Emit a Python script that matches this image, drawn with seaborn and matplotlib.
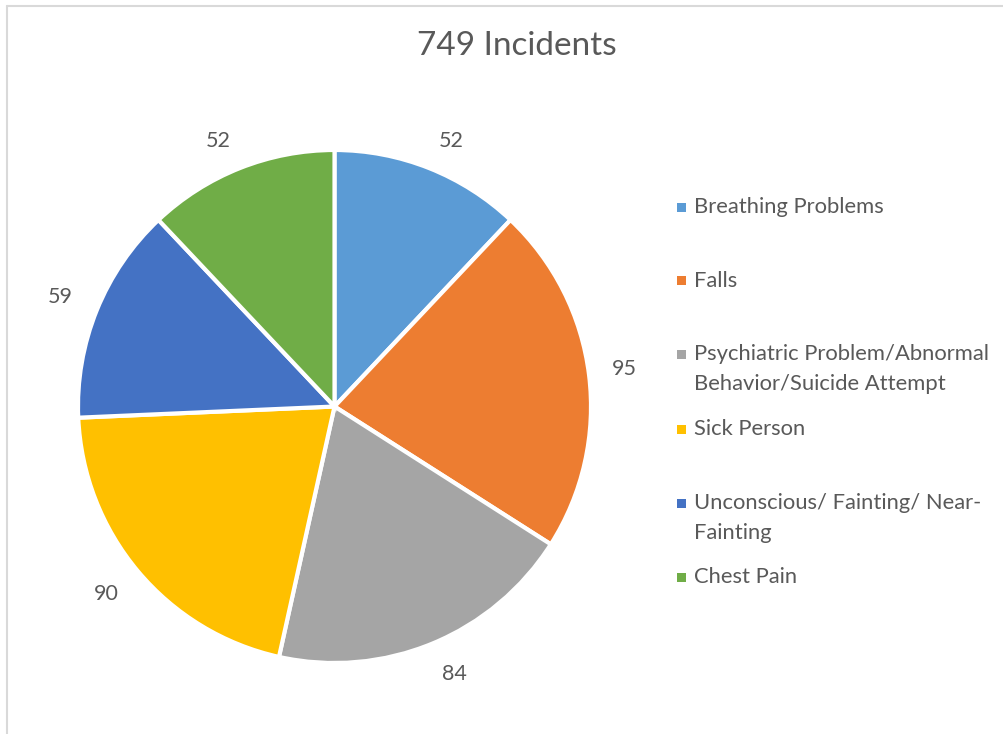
import matplotlib
matplotlib.use("Agg")
import matplotlib.pyplot as plt
import seaborn as sns
from matplotlib.lines import Line2D
from matplotlib.patches import Rectangle

# data
categories = ["Breathing Problems", "Falls",
              "Psychiatric Problem/Abnormal\nBehavior/Suicide Attempt",
              "Sick Person", "Unconscious/ Fainting/ Near-\nFainting", "Chest Pain"]
counts = [52, 95, 84, 90, 59, 52]
title = "749 Incidents"

colors = sns.color_palette(["#5B9BD5", "#ED7D31", "#A5A5A5", "#FFC000", "#4472C4", "#70AD47"])

sns.set_theme(style="white")
plt.rcParams['font.family'] = ['Lato', 'DejaVu Sans']
txt = "#595959"

W, H = 1004, 734
fig = plt.figure(figsize=(W / 100, H / 100), dpi=100)
fig.patch.set_facecolor("white")

# chart frame (only top and left edges visible)
fig.add_artist(Line2D([6.5 / W, 6.5 / W], [0, 1 - 5.5 / H], color="#D9D9D9", lw=1.5))
fig.add_artist(Line2D([6.5 / W, 1], [1 - 5.5 / H, 1 - 5.5 / H], color="#D9D9D9", lw=1.5))

# pie axes placed on pixel box
cx, cy, r = 334.5, 406.5, 256.5
ax = fig.add_axes([(cx - r) / W, 1 - (cy + r) / H, 2 * r / W, 2 * r / H])
wedges, texts = ax.pie(counts, labels=[str(c) for c in counts], colors=colors,
                       startangle=90, counterclock=False, labeldistance=1.1,
                       wedgeprops=dict(edgecolor="white", linewidth=3, clip_on=False),
                       textprops=dict(color=txt, fontsize=15.5))
# nudge labels outward vertically, the way Excel sits them against the edge
for t in texts:
    x, y = t.get_position()
    t.set_position((x - 0.01 if x > 0.5 else x, y - 0.025 if y < 0 else y + 0.012))
ax.set_xlim(-1, 1)
ax.set_ylim(-1, 1)
ax.axis("off")

fig.text(517 / W, 1 - 46 / H, title, ha="center", va="center", fontsize=24, color=txt)

# legend
legend_y = [207, 281, 354, 429, 503, 577]
for cat, col, y in zip(categories, colors, legend_y):
    fig.add_artist(Rectangle((677 / W, 1 - (y + 4.5) / H), 9 / W, 9 / H,
                             facecolor=col, edgecolor="none", transform=fig.transFigure))
    for i, line in enumerate(cat.split("\n")):
        fig.text(694 / W, 1 - (y + 30 * i) / H, line, ha="left", va="center",
                 fontsize=15.8, color=txt)

fig.savefig("out.png", dpi=100, facecolor="white")
